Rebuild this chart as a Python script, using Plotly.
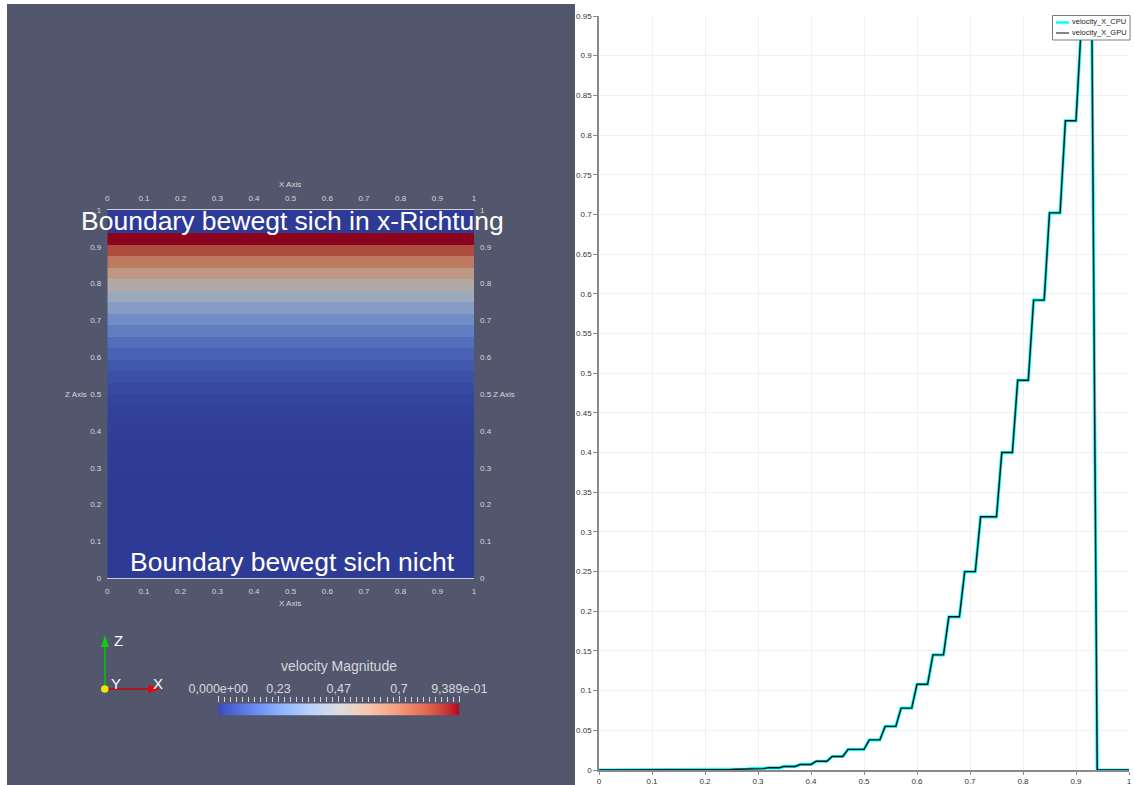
import plotly.graph_objects as go

# ---------------------------------------------------------------- data
# cell-averaged velocity magnitude of the 32 cell rows (z from 0 to 1)
cell_velocity = [
    0.0000, 0.0000, 0.0000, 0.0001, 0.0001, 0.0002, 0.0003, 0.0006,
    0.0010, 0.0017, 0.0028, 0.0045, 0.0070, 0.0110, 0.0170, 0.0260,
    0.0380, 0.0550, 0.0780, 0.1080, 0.1450, 0.1930, 0.2500, 0.3190,
    0.4000, 0.4910, 0.5920, 0.7020, 0.8180, 0.9389, 0.0000, 0.0000,
]
n_cells = len(cell_velocity)
cell_edges = [k / n_cells for k in range(n_cells + 1)]

# plot-over-line probe (101 samples along z)
line_x = [i / 100 for i in range(101)]
velocity_x_cpu = [
    0.0000, 0.0000, 0.0000, 0.0000, 0.0000, 0.0000, 0.0000, 0.0000, 0.0000, 0.0000,
    0.0001, 0.0001, 0.0001, 0.0001, 0.0001, 0.0001, 0.0002, 0.0002, 0.0002, 0.0003,
    0.0003, 0.0003, 0.0006, 0.0006, 0.0006, 0.0006, 0.0010, 0.0010, 0.0010, 0.0017,
    0.0017, 0.0017, 0.0028, 0.0028, 0.0028, 0.0045, 0.0045, 0.0045, 0.0070, 0.0070,
    0.0070, 0.0110, 0.0110, 0.0110, 0.0170, 0.0170, 0.0170, 0.0260, 0.0260, 0.0260,
    0.0260, 0.0380, 0.0380, 0.0380, 0.0550, 0.0550, 0.0550, 0.0780, 0.0780, 0.0780,
    0.1080, 0.1080, 0.1080, 0.1450, 0.1450, 0.1450, 0.1930, 0.1930, 0.1930, 0.2500,
    0.2500, 0.2500, 0.3190, 0.3190, 0.3190, 0.3190, 0.4000, 0.4000, 0.4000, 0.4910,
    0.4910, 0.4910, 0.5920, 0.5920, 0.5920, 0.7020, 0.7020, 0.7020, 0.8180, 0.8180,
    0.8180, 0.9389, 0.9389, 0.9389, 0.0000, 0.0000, 0.0000, 0.0000, 0.0000, 0.0000,
    0.0000,
]
velocity_x_gpu = list(velocity_x_cpu)
series_names = ["velocity_X_CPU", "velocity_X_GPU"]

v_max = 0.9389
bar_tick_vals = [0.0, 0.2347, 0.4694, 0.7042, 0.9389]
bar_tick_text = ["0,000e+00", "0,23", "0,47", "0,7", "9,389e-01"]
frame_ticks = [k / 10 for k in range(11)]

# ---------------------------------------------------------------- style
W, H = 1134, 785
BG = "rgb(82,87,110)"
LABEL = "rgb(214,215,220)"
FONT = "Liberation Sans, Arial, sans-serif"
CPU_COLOR = "#00ffff"
GPU_COLOR = "#111111"


def px(x):
    return x / W


def py(y):
    return 1 - y / H


# Moreland cool-to-warm map
cool_warm = [
    (0.0, (59, 76, 192)), (0.0625, (77, 104, 215)), (0.125, (98, 130, 234)),
    (0.1875, (119, 154, 247)), (0.25, (141, 176, 254)), (0.3125, (163, 194, 255)),
    (0.375, (184, 208, 249)), (0.4375, (204, 217, 238)), (0.5, (221, 221, 221)),
    (0.5625, (236, 211, 197)), (0.625, (245, 196, 173)), (0.6875, (247, 177, 148)),
    (0.75, (244, 154, 123)), (0.8125, (236, 127, 99)), (0.875, (222, 96, 77)),
    (0.9375, (203, 62, 56)), (1.0, (180, 4, 38)),
]
bar_scale = [[s, "rgb(%d,%d,%d)" % c] for s, c in cool_warm]
# the lit surface renders the same map somewhat darker
shade = 0.78
surface_scale = [[s, "rgb(%d,%d,%d)" % tuple(round(v * shade) for v in c)] for s, c in cool_warm]

fig = go.Figure()

# ---------------------------------------------------------------- slice view
slice_z = [[v] for v in cell_velocity]
fig.add_trace(go.Heatmap(
    z=slice_z, x=[0, 1], y=cell_edges,
    colorscale=surface_scale, zmin=0, zmax=v_max, showscale=False,
    xaxis="x", yaxis="y", hoverinfo="skip", showlegend=False,
))
# same slice on the mirrored (top / right) frame axes so they get drawn
fig.add_trace(go.Heatmap(
    z=slice_z, x=[0, 1], y=cell_edges, opacity=0,
    colorscale=surface_scale, zmin=0, zmax=v_max, showscale=False,
    xaxis="x4", yaxis="y4", hoverinfo="skip", showlegend=False,
))

# colour legend bar
fig.add_trace(go.Heatmap(
    z=[[0, v_max], [0, v_max]], x=[0, v_max], y=[0, 1],
    colorscale=bar_scale, zmin=0, zmax=v_max, zsmooth="best", showscale=False,
    xaxis="x3", yaxis="y3", hoverinfo="skip", showlegend=False,
))

# ---------------------------------------------------------------- line plot
fig.add_trace(go.Scatter(
    x=line_x, y=velocity_x_cpu, mode="lines", name=series_names[0],
    line=dict(color=CPU_COLOR, width=3.2), xaxis="x2", yaxis="y2", showlegend=False,
))
fig.add_trace(go.Scatter(
    x=line_x, y=velocity_x_gpu, mode="lines", name=series_names[1],
    line=dict(color=GPU_COLOR, width=1.4), xaxis="x2", yaxis="y2", showlegend=False,
))

frame_font = dict(family=FONT, size=8, color=LABEL)
frame_axis = dict(
    range=[0, 1], tickmode="array", tickvals=frame_ticks, showgrid=False,
    zeroline=False, tickfont=frame_font, ticks="", fixedrange=True, automargin=False,
)
x_dom = [px(107.3), px(474)]
y_dom = [py(578.3), py(210)]

fig.update_layout(
    width=W, height=H, margin=dict(l=0, r=0, t=0, b=0, pad=0, autoexpand=False),
    paper_bgcolor="white", plot_bgcolor="rgba(0,0,0,0)",
    font=dict(family=FONT),
    showlegend=False,
    xaxis=dict(domain=x_dom, anchor="y", side="bottom", showline=True, mirror=True,
               linecolor="rgb(205,205,210)", linewidth=1, ticklabelstandoff=5, **frame_axis),
    yaxis=dict(domain=y_dom, anchor="x", side="left", showline=False,
               ticklabelstandoff=5, **frame_axis),
    xaxis4=dict(domain=x_dom, anchor="y4", side="top", showline=False,
                ticklabelstandoff=6, **frame_axis),
    yaxis4=dict(domain=y_dom, anchor="x4", side="right", showline=False,
                ticklabelstandoff=5, **frame_axis),
    xaxis3=dict(domain=[px(218.3), px(459.3)], anchor="y3", side="top", range=[0, v_max],
                tickmode="array", tickvals=bar_tick_vals, ticktext=bar_tick_text,
                ticks="outside", ticklen=6, tickwidth=1, tickcolor=LABEL,
                minor=dict(ticks="outside", dtick=v_max / 40, tick0=0, ticklen=5,
                           tickcolor=LABEL, tickwidth=1, showgrid=False),
                tickfont=dict(family=FONT, size=12.5, color=LABEL), ticklabelstandoff=-2,
                showgrid=False, zeroline=False, showline=False, fixedrange=True,
                automargin=False),
    yaxis3=dict(domain=[py(715.7), py(703.3)], anchor="x3", range=[0, 1],
                showticklabels=False, ticks="", showgrid=False, zeroline=False,
                fixedrange=True, automargin=False),
    xaxis2=dict(domain=[px(599), px(1129)], anchor="y2", range=[0, 1], dtick=0.1,
                showgrid=True, gridcolor="#f1f1f1", gridwidth=1, zeroline=False,
                showline=True, linecolor="#8a8a8a", linewidth=1.5,
                ticks="outside", ticklen=3, tickcolor="#8a8a8a", automargin=False,
                tickfont=dict(family=FONT, size=8, color="#333333")),
    yaxis2=dict(domain=[py(770), py(16)], anchor="x2", range=[0, 0.95], dtick=0.05,
                showgrid=True, gridcolor="#f1f1f1", gridwidth=1, zeroline=False,
                showline=True, linecolor="#8a8a8a", linewidth=1.5,
                ticks="outside", ticklen=4, tickcolor="#8a8a8a", automargin=False,
                tickfont=dict(family=FONT, size=8, color="#333333")),
)

shapes = [
    # render-view background
    dict(type="rect", xref="paper", yref="paper", x0=px(7), x1=px(575), y0=0, y1=py(4),
         fillcolor=BG, line=dict(width=0), layer="below"),
    # orientation triad
    dict(type="line", xref="paper", yref="paper", x0=px(105), x1=px(105), y0=py(689), y1=py(645),
         line=dict(color="rgb(0,200,0)", width=1.5)),
    dict(type="path", xref="paper", yref="paper",
         path="M %f,%f L %f,%f L %f,%f Z" % (px(101), py(647), px(109), py(647), px(105), py(635)),
         fillcolor="rgb(20,200,20)", line=dict(width=0)),
    dict(type="line", xref="paper", yref="paper", x0=px(105), x1=px(150), y0=py(689), y1=py(689),
         line=dict(color="rgb(210,0,0)", width=1.5)),
    dict(type="path", xref="paper", yref="paper",
         path="M %f,%f L %f,%f L %f,%f Z" % (px(148), py(684.5), px(148), py(693.5), px(160), py(689)),
         fillcolor="rgb(220,10,10)", line=dict(width=0)),
    dict(type="circle", xref="paper", yref="paper", x0=px(101), x1=px(108.5), y0=py(692.8), y1=py(685.3),
         fillcolor="rgb(240,230,0)", line=dict(width=0)),
    # series key box of the line plot
    dict(type="rect", xref="paper", yref="paper", x0=px(1052.5), x1=px(1130), y0=py(40), y1=py(15.5),
         fillcolor="white", line=dict(color="#7a7a7a", width=1), layer="above"),
    dict(type="line", xref="paper", yref="paper", x0=px(1056), x1=px(1069), y0=py(22.5), y1=py(22.5),
         line=dict(color=CPU_COLOR, width=2.5), layer="above"),
    dict(type="line", xref="paper", yref="paper", x0=px(1056), x1=px(1069), y0=py(33), y1=py(33),
         line=dict(color="#333333", width=1.2), layer="above"),
]
fig.update_layout(shapes=shapes)

ann = []


def text(x, y, s, size, color=LABEL, xanchor="center"):
    ann.append(dict(x=px(x), y=py(y), xref="paper", yref="paper", text=s, showarrow=False,
                    xanchor=xanchor, yanchor="middle",
                    font=dict(family=FONT, size=size, color=color)))


text(292, 221, "Boundary bewegt sich in x-Richtung", 26.5, "white")
text(292, 562, "Boundary bewegt sich nicht", 26.5, "white")
text(290, 185, "X Axis", 8)
text(290, 603.5, "X Axis", 8)
text(89, 394, "Z Axis", 8, xanchor="right")
text(491, 394, "Z Axis", 8, xanchor="left")
text(339, 665.5, "velocity Magnitude", 14)
text(112, 640, "Z", 15, "white", "left")
text(151, 683.5, "X", 15, "white", "left")
text(108.5, 683.5, "Y", 15, "white", "left")
text(1070, 22, series_names[0], 7.5, "#222222", "left")
text(1070, 33, series_names[1], 7.5, "#222222", "left")
fig.update_layout(annotations=ann)

fig.write_html("out.html")
